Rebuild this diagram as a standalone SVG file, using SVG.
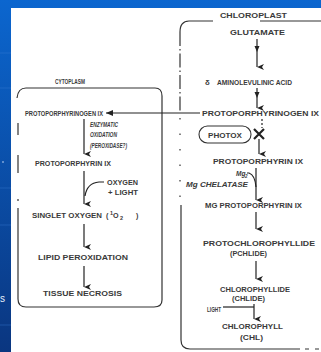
<svg xmlns="http://www.w3.org/2000/svg" width="321" height="352" viewBox="0 0 321 352">
<defs>
<linearGradient id="bg" x1="0" y1="0" x2="0" y2="1">
<stop offset="0" stop-color="#0b66cf"/>
<stop offset="1" stop-color="#0a3680"/>
</linearGradient>
<marker id="ah" markerUnits="userSpaceOnUse" markerWidth="6" markerHeight="8" refX="3" refY="7" orient="auto-start-reverse" viewBox="0 0 6 8">
<path d="M0,0 L3,7 L6,0 L3,2 Z" fill="#222"/>
</marker>
<marker id="ahl" markerUnits="userSpaceOnUse" markerWidth="8" markerHeight="6" refX="1" refY="3" orient="0" viewBox="0 0 8 6">
<path d="M8,0 L1,3 L8,6 Z" fill="#222"/>
</marker>
</defs>
<style>
text{font-family:"Liberation Sans",Arial,sans-serif;font-weight:bold;fill:#3a3a3a}
.l{font-size:7.2px}
.r{font-size:7.8px}
.it{font-style:italic}
.box{fill:none;stroke:#333;stroke-width:1.2}
.ln{fill:none;stroke:#222;stroke-width:1.2}
</style>
<rect width="321" height="352" fill="url(#bg)"/>
<g stroke="#3b7fd6" stroke-width="0.8" opacity="0.5">
<line x1="0" y1="53" x2="11" y2="53"/>
<line x1="0" y1="88" x2="11" y2="88"/>
<line x1="0" y1="188" x2="11" y2="188"/>
<line x1="0" y1="225" x2="11" y2="225"/>
<line x1="0" y1="325" x2="11" y2="325"/>
</g>
<circle cx="3" cy="162" r="0.8" fill="#cfe0f7"/>
<text x="0" y="302" style="font-size:10px;font-weight:normal;fill:#e8f0fb">s</text>
<rect x="11" y="8" width="310" height="344" fill="#fff"/>

<g id="cytoplasm">
<path class="box" d="M17,98 Q18,88 26,88 L155,88 Q162,88 162,96 L162,300 Q162,307 154,307 L26,307 Q18,307 18,299 L18,208"/>
<path class="box" d="M18,123 L18,135 M18,155 L18,173 M18,199 L18,201"/>
<text x="55" y="84" style="font-size:6.5px" textLength="30" lengthAdjust="spacingAndGlyphs">CYTOPLASM</text>
</g>
<g id="chloroplast">
<path class="box" d="M180,32 Q180,21 189,21 L213,21"/>
<line class="box" x1="260" y1="21" x2="321" y2="21"/>
<line class="box" x1="180" y1="32" x2="180" y2="112" stroke-dasharray="14,3,1.5,3"/>
<line class="box" x1="180" y1="118" x2="180" y2="200" stroke-dasharray="1.5,14"/>
<path class="box" d="M181,205 L181,340 Q181,349 190,349 L300,349 M305,349 L309,349 M315,349 L319,349"/>
<text x="220" y="18" style="font-size:7px" textLength="67" lengthAdjust="spacingAndGlyphs">CHLOROPLAST</text>
</g>

<g id="n-protogen-left"><text class="l" x="25" y="116" textLength="78" lengthAdjust="spacingAndGlyphs">PROTOPORPHYRINOGEN IX</text></g>
<g id="n-enzymatic">
<text class="l it" x="90" y="127" textLength="28" lengthAdjust="spacingAndGlyphs">ENZYMATIC</text>
<text class="l it" x="90" y="137" textLength="27" lengthAdjust="spacingAndGlyphs">OXIDATION</text>
<text class="l it" x="90" y="148" textLength="37" lengthAdjust="spacingAndGlyphs">(PEROXIDASE?)</text>
</g>
<g id="n-proto-left"><text class="l" x="35" y="166" textLength="76" lengthAdjust="spacingAndGlyphs">PROTOPORPHYRIN IX</text></g>
<g id="n-oxygen-light">
<text class="l" x="107" y="185" textLength="31" lengthAdjust="spacingAndGlyphs">OXYGEN</text>
<text class="l" x="108" y="195" textLength="30" lengthAdjust="spacingAndGlyphs">+ LIGHT</text>
</g>
<g id="n-singlet">
<text class="l" x="32" y="218" textLength="70" lengthAdjust="spacingAndGlyphs">SINGLET OXYGEN</text>
<text class="l" x="106" y="218">(</text>
<text class="l" x="110" y="215" style="font-size:5.5px">1</text>
<text class="l" x="113" y="218">O</text>
<text class="l" x="120" y="220" style="font-size:5.5px">2</text>
<text class="l" x="136" y="218">)</text>
</g>
<g id="n-lipid"><text class="l" x="38" y="260" textLength="90" lengthAdjust="spacingAndGlyphs">LIPID PEROXIDATION</text></g>
<g id="n-tissue"><text class="l" x="43" y="296" textLength="79" lengthAdjust="spacingAndGlyphs">TISSUE NECROSIS</text></g>

<g id="n-glutamate"><text class="r" x="230" y="35" textLength="55" lengthAdjust="spacingAndGlyphs">GLUTAMATE</text></g>
<g id="n-ala">
<text class="r" x="205" y="85">δ</text>
<text class="r" x="217" y="85" textLength="75" lengthAdjust="spacingAndGlyphs">AMINOLEVULINIC ACID</text>
</g>
<g id="n-protogen-right"><text class="r" x="202" y="116" textLength="117" lengthAdjust="spacingAndGlyphs">PROTOPORPHYRINOGEN IX</text></g>
<g id="n-photox">
<rect x="199" y="126" width="52" height="17" rx="8.5" fill="none" stroke="#333" stroke-width="1.1"/>
<text class="r" x="208" y="137.5" textLength="34" lengthAdjust="spacingAndGlyphs">PHOTOX</text>
</g>
<g id="n-proto-right"><text class="r" x="213" y="164" textLength="90" lengthAdjust="spacingAndGlyphs">PROTOPORPHYRIN IX</text></g>
<g id="n-mg">
<text class="r it" x="236" y="176" style="font-size:6.5px">Mg</text>
<text class="r it" x="245" y="178" style="font-size:4.5px">2</text>
<text class="r it" x="186" y="187" textLength="62" lengthAdjust="spacingAndGlyphs">Mg CHELATASE</text>
</g>
<g id="n-mgproto"><text class="r" x="205" y="208" textLength="97" lengthAdjust="spacingAndGlyphs">MG PROTOPORPHYRIN IX</text></g>
<g id="n-pchlide">
<text class="r" x="203" y="246" textLength="112" lengthAdjust="spacingAndGlyphs">PROTOCHLOROPHYLLIDE</text>
<text class="r" x="230" y="256" textLength="37" lengthAdjust="spacingAndGlyphs">(PCHLIDE)</text>
</g>
<g id="n-chlide">
<text class="r" x="220" y="292" textLength="70" lengthAdjust="spacingAndGlyphs">CHLOROPHYLLIDE</text>
<text class="r" x="232" y="301" textLength="33" lengthAdjust="spacingAndGlyphs">(CHLIDE)</text>
</g>
<g id="n-light"><text x="207" y="312" style="font-size:7px" textLength="14" lengthAdjust="spacingAndGlyphs">LIGHT</text></g>
<g id="n-chl">
<text class="r" x="222" y="329" textLength="61" lengthAdjust="spacingAndGlyphs">CHLOROPHYLL</text>
<text class="r" x="240" y="340" textLength="23" lengthAdjust="spacingAndGlyphs">(CHL)</text>
</g>

<g id="connectors">
<line class="ln" x1="200" y1="113" x2="106" y2="113" marker-end="url(#ahl)"/>
<line class="ln" x1="84" y1="119" x2="84" y2="154" marker-end="url(#ah)"/>
<line class="ln" x1="84" y1="171" x2="84" y2="204" marker-end="url(#ah)"/>
<path class="ln" d="M104,182 L99,182 Q87,183 85,196"/>
<line class="ln" x1="84" y1="224" x2="84" y2="247" marker-end="url(#ah)"/>
<line class="ln" x1="84" y1="266" x2="84" y2="287" marker-end="url(#ah)"/>

<line class="ln" x1="257" y1="39" x2="257" y2="67" marker-end="url(#ah)"/>
<path d="M254.5,46 L257,52 L259.5,46 Z" fill="#222"/>
<line class="ln" x1="257" y1="88" x2="257" y2="108" marker-end="url(#ah)"/>
<path d="M254.5,92 L257,98 L259.5,92 Z" fill="#222"/>
<line class="ln" x1="262" y1="119" x2="262" y2="128" stroke-dasharray="2,2"/>
<path d="M254,129 L264,139 M264,129 L254,139" stroke="#222" stroke-width="2.2"/>
<line class="ln" x1="259" y1="139" x2="259" y2="154" marker-end="url(#ah)"/>
<line class="ln" x1="256" y1="168" x2="256" y2="200" marker-end="url(#ah)"/>
<path class="ln" d="M247,173 L249,173 Q255,175 256,187"/>
<line class="ln" x1="256" y1="212" x2="256" y2="229" marker-end="url(#ah)"/>
<line class="ln" x1="256" y1="261" x2="256" y2="279" marker-end="url(#ah)"/>
<line class="ln" x1="254" y1="304" x2="254" y2="319" marker-end="url(#ah)"/>
<line class="ln" x1="223" y1="307" x2="254" y2="307"/>
</g>
</svg>
